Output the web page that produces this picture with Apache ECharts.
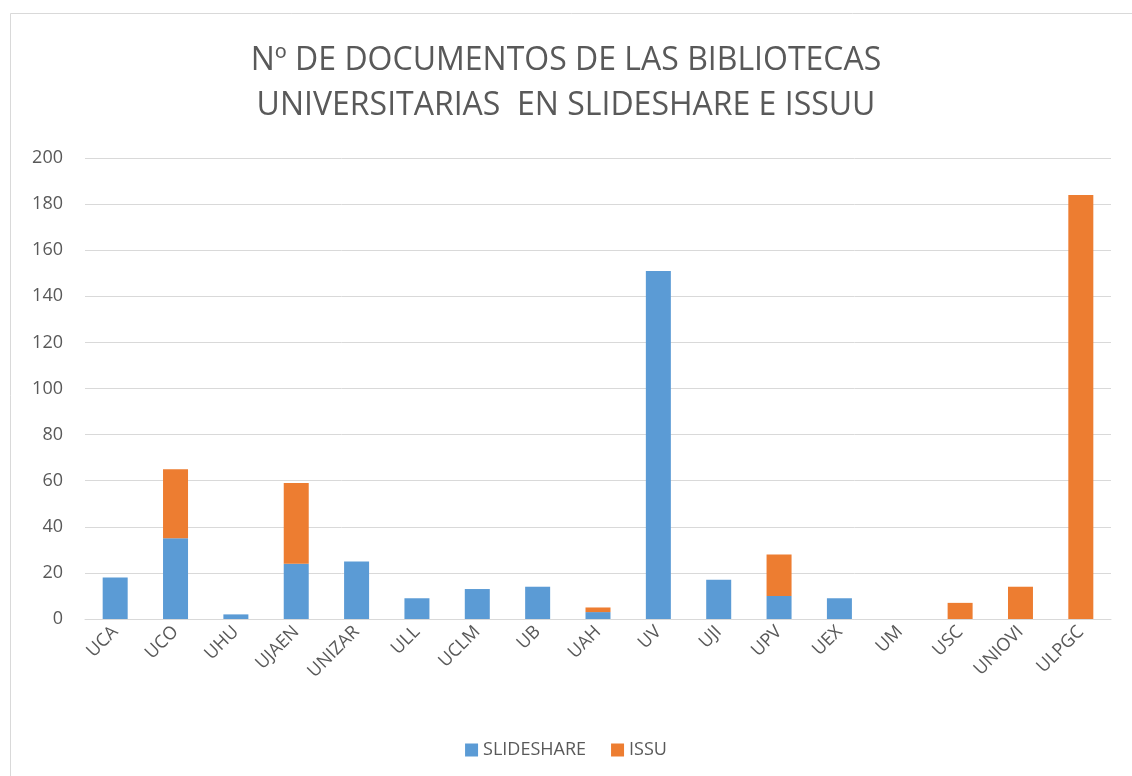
<!DOCTYPE html>
<html>
<head>
<meta charset="utf-8">
<script src="https://cdn.jsdelivr.net/npm/echarts@6/dist/echarts.min.js"></script>
<style>
  html, body { margin: 0; padding: 0; background: #fff; }
  #chart { width: 1132px; height: 776px; }
</style>
</head>
<body>
<div id="chart"></div>
<script>
// universidades
const categories = ['UCA', 'UCO', 'UHU', 'UJAEN', 'UNIZAR', 'ULL', 'UCLM', 'UB', 'UAH', 'UV', 'UJI', 'UPV', 'UEX', 'UM', 'USC', 'UNIOVI', 'ULPGC'];
const slideshare = [18, 35, 2, 24, 25, 9, 13, 14, 3, 151, 17, 10, 9, 0, 0, 0, 0];
const issu = [0, 30, 0, 35, 0, 0, 0, 0, 2, 0, 0, 18, 0, 0, 7, 14, 184];
const yTicks = [0, 20, 40, 60, 80, 100, 120, 140, 160, 180, 200];

const textColor = '#595959';
const font = 'Open Sans';

let myChart = echarts.init(document.getElementById('chart'));
myChart.setOption({
  backgroundColor: '#fff',
  animation: false,
  title: {
    text: 'Nº DE DOCUMENTOS DE LAS BIBLIOTECAS\nUNIVERSITARIAS  EN SLIDESHARE E ISSUU',
    left: 'center',
    top: 33,
    textStyle: {
      color: textColor,
      fontFamily: font,
      fontWeight: 'normal',
      fontSize: 32,
      lineHeight: 45
    }
  },
  graphic: [{
    type: 'rect',
    shape: { x: 10.5, y: 13.5, width: 1130, height: 770 },
    style: { fill: 'none', stroke: '#d9d9d9', lineWidth: 1 }
  }],
  legend: {
    data: ['SLIDESHARE', 'ISSU'],
    left: 'center',
    top: 736,
    itemWidth: 13,
    itemHeight: 13,
    itemGap: 25,
    icon: 'rect',
    textStyle: { color: textColor, fontFamily: font, fontSize: 18 }
  },
  grid: {
    left: 85,
    top: 158,
    width: 1026,
    height: 461
  },
  xAxis: {
    type: 'category',
    data: categories,
    axisTick: { show: false },
    axisLine: { lineStyle: { color: '#d9d9d9', width: 1 } },
    axisLabel: {
      rotate: 45,
      interval: 0,
      color: textColor,
      fontFamily: font,
      fontSize: 18,
      margin: 10
    }
  },
  yAxis: {
    type: 'value',
    min: yTicks[0],
    max: yTicks[yTicks.length - 1],
    interval: 20,
    axisLine: { show: false },
    axisTick: { show: false },
    splitLine: { lineStyle: { color: '#d9d9d9', width: 1 } },
    axisLabel: {
      color: textColor,
      fontFamily: font,
      fontSize: 18,
      margin: 22
    }
  },
  series: [
    {
      name: 'SLIDESHARE',
      type: 'bar',
      stack: 'total',
      data: slideshare,
      barWidth: 25,
      itemStyle: { color: '#5b9bd5' }
    },
    {
      name: 'ISSU',
      type: 'bar',
      stack: 'total',
      data: issu,
      barWidth: 25,
      itemStyle: { color: '#ed7d31' }
    }
  ]
});
</script>
</body>
</html>
